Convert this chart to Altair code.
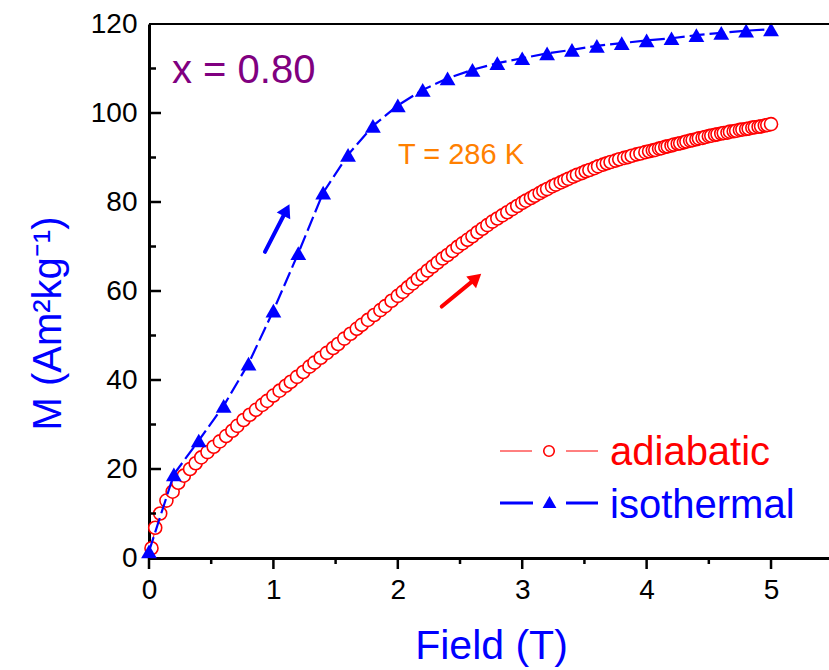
import altair as alt
import pandas as pd

# ---- measured magnetization curves (x = 0.80, T = 286 K) ----
# isothermal: field steps of 0.2 T
iso_field = [0.0, 0.2, 0.4, 0.6, 0.8, 1.0, 1.2, 1.4, 1.6, 1.8, 2.0, 2.2, 2.4,
             2.6, 2.8, 3.0, 3.2, 3.4, 3.6, 3.8, 4.0, 4.2, 4.4, 4.6, 4.8, 5.0]
iso_m = [1.5, 18.8, 26.4, 34.2, 43.7, 55.6, 68.5, 82.1, 90.6, 97.1, 101.7, 105.2, 107.8,
         109.7, 111.2, 112.3, 113.4, 114.2, 115.1, 115.7, 116.3, 116.8, 117.5, 118.0, 118.5, 118.8]

# adiabatic: continuous field sweep
adia_field = [0.02, 0.05, 0.09, 0.14, 0.19, 0.235, 0.28, 0.33, 0.375, 0.42, 0.47, 0.52,
              0.57, 0.62, 0.67, 0.71, 0.76, 0.81, 0.86, 0.91, 0.95, 1.00, 1.05, 1.10,
              1.14, 1.19, 1.24, 1.29, 1.33, 1.38, 1.43, 1.48, 1.52, 1.57, 1.62, 1.67,
              1.71, 1.76, 1.81, 1.86, 1.90, 1.95, 2.00,
              2.04, 2.08, 2.12, 2.16, 2.20, 2.24, 2.28, 2.32, 2.36, 2.40, 2.44, 2.48,
              2.52, 2.56, 2.60, 2.64, 2.68, 2.72, 2.76, 2.80, 2.84, 2.88, 2.92, 2.96, 3.00,
              3.03, 3.07, 3.10, 3.14, 3.17, 3.20, 3.24, 3.27, 3.31, 3.34, 3.37, 3.41,
              3.44, 3.48, 3.51, 3.54, 3.58, 3.61, 3.65, 3.68, 3.71, 3.75, 3.78, 3.82,
              3.85, 3.88, 3.92, 3.95, 3.99,
              4.02, 4.05, 4.07, 4.10, 4.12, 4.15, 4.17, 4.20, 4.22, 4.25, 4.27, 4.30,
              4.32, 4.35, 4.37, 4.40, 4.42, 4.45, 4.47, 4.50, 4.52, 4.55, 4.57, 4.60,
              4.62, 4.65, 4.67, 4.70, 4.72, 4.75, 4.77, 4.80, 4.82, 4.85, 4.87, 4.90,
              4.92, 4.95, 4.97, 5.00]
adia_m = [2.2, 6.8, 10.0, 12.9, 14.9, 16.9, 18.5, 20.0, 21.3, 22.6, 23.8, 25.0,
          26.2, 27.4, 28.6, 29.7, 31.0, 32.2, 33.3, 34.4, 35.3, 36.5, 37.6, 38.7,
          39.6, 40.7, 41.8, 43.0, 43.9, 45.0, 46.1, 47.2, 48.1, 49.3, 50.4, 51.5,
          52.4, 53.5, 54.6, 55.7, 56.6, 57.8, 58.9,
          59.8, 60.8, 61.7, 62.7, 63.6, 64.6, 65.5, 66.4, 67.3, 68.1, 69.0, 69.9,
          70.7, 71.5, 72.3, 73.2, 74.0, 74.8, 75.6, 76.3, 77.0, 77.7, 78.4, 79.1, 79.8,
          80.3, 80.9, 81.4, 82.0, 82.5, 82.9, 83.5, 83.9, 84.4, 84.8, 85.2, 85.7,
          86.1, 86.5, 86.9, 87.2, 87.6, 88.0, 88.4, 88.7, 89.0, 89.3, 89.6, 89.9,
          90.1, 90.4, 90.7, 90.9, 91.2,
          91.4, 91.6, 91.7, 92.0, 92.1, 92.4, 92.5, 92.7, 92.9, 93.1, 93.2, 93.4,
          93.6, 93.8, 93.9, 94.1, 94.3, 94.4, 94.6, 94.8, 94.9, 95.1, 95.2, 95.4,
          95.5, 95.6, 95.8, 95.9, 96.0, 96.2, 96.3, 96.4, 96.5, 96.7, 96.8, 96.9,
          97.0, 97.2, 97.3, 97.5]

# sweep-direction arrows: tail and head-centre in data units, head rotation
arrow_color = ["#0000FF", "#FF0000"]
arrow_x0 = [0.932, 2.353]
arrow_y0 = [68.8, 56.5]
arrow_x1 = [1.105, 2.630]
arrow_y1 = [78.2, 62.9]
arrow_angle = [27, 50]

# axis ticks
x_major = [0, 1, 2, 3, 4, 5]
x_minor = [0.5, 1.5, 2.5, 3.5, 4.5]
y_major = [0, 20, 40, 60, 80, 100, 120]
y_inner_major = [20, 40, 60, 80, 100]
y_inner_minor = [10, 30, 50, 70, 90, 110]

W, H = 680, 534
FONT = "Liberation Sans"
BLUE, RED = "#0000FF", "#FF0000"

xs = alt.Scale(domain=[0, 5.466], nice=False, zero=False)
ys = alt.Scale(domain=[0, 120], nice=False, zero=False)

iso = pd.DataFrame({"field": iso_field, "m": iso_m})
adia = pd.DataFrame({"field": adia_field, "m": adia_m})
arrows = pd.DataFrame({"x0": arrow_x0, "y0": arrow_y0, "x1": arrow_x1,
                       "y1": arrow_y1, "c": arrow_color, "a": arrow_angle})

x_axis = alt.Axis(
    title="Field (T)", values=x_major, format="d", grid=False,
    ticks=False, tickSize=0, labelPadding=18, labelFlush=False, labelOverlap=False,
    labelFont=FONT, labelFontSize=28, labelColor="black",
    domainColor="black", domainWidth=3,
    titleFont=FONT, titleFontSize=41, titleFontWeight="normal", titleColor=BLUE,
    titleX=342, titleY=100, titleAlign="center", titleBaseline="alphabetic",
)
y_axis = alt.Axis(
    title="M (Am²kg⁻¹)", values=y_major, format="d", grid=False,
    ticks=False, tickSize=0, labelPadding=12, labelOverlap=False,
    labelFont=FONT, labelFontSize=28, labelColor="black",
    domainColor="black", domainWidth=3,
    titleFont=FONT, titleFontSize=40, titleFontWeight="normal", titleColor=BLUE,
    titleAngle=270, titleX=-89, titleY=299, titleAlign="center",
    titleBaseline="alphabetic",
)

# adiabatic curve: thin line under open circles
adia_line = alt.Chart(adia).mark_line(color=RED, strokeWidth=1).encode(
    x=alt.X("field:Q", scale=xs, axis=x_axis),
    y=alt.Y("m:Q", scale=ys, axis=y_axis),
)
adia_pts = alt.Chart(adia).mark_point(
    shape="circle", filled=True, fill="white", stroke=RED, strokeWidth=1.6,
    size=170, opacity=1,
).encode(x=alt.X("field:Q", scale=xs), y=alt.Y("m:Q", scale=ys))

# isothermal curve: dashed line with filled triangles
iso_line = alt.Chart(iso).mark_line(color=BLUE, strokeWidth=2.2, strokeDash=[15, 5]).encode(
    x=alt.X("field:Q", scale=xs), y=alt.Y("m:Q", scale=ys),
)
iso_pts = alt.Chart(iso).mark_point(
    shape="triangle-up", filled=True, color=BLUE, size=250, opacity=1, strokeWidth=0,
).encode(x=alt.X("field:Q", scale=xs), y=alt.Y("m:Q", scale=ys))

# arrows
arrow_shaft = alt.Chart(arrows).mark_rule(strokeWidth=4, strokeCap="round").encode(
    x=alt.X("x0:Q", scale=xs), y=alt.Y("y0:Q", scale=ys),
    x2="x1:Q", y2="y1:Q", color=alt.Color("c:N", scale=None),
)
arrow_heads = [
    alt.Chart(arrows.iloc[[i]]).mark_point(
        shape="triangle-up", filled=True, size=230, opacity=1, strokeWidth=0,
        angle=float(arrow_angle[i]),
    ).encode(x=alt.X("x1:Q", scale=xs), y=alt.Y("y1:Q", scale=ys),
             color=alt.Color("c:N", scale=None))
    for i in range(len(arrow_angle))
]

# frame line along the top of the plot
top_line = alt.Chart(pd.DataFrame({"v": [120]})).mark_rule(color="black", strokeWidth=2).encode(
    y=alt.Y("v:Q", scale=ys), x=alt.value(0), x2=alt.value(W),
)

# y ticks point into the plot, x ticks point outward
yt_major = alt.Chart(pd.DataFrame({"v": y_inner_major})).mark_rule(color="black", strokeWidth=2.5).encode(
    y=alt.Y("v:Q", scale=ys), x=alt.value(0), x2=alt.value(12),
)
yt_minor = alt.Chart(pd.DataFrame({"v": y_inner_minor})).mark_rule(color="black", strokeWidth=2.5).encode(
    y=alt.Y("v:Q", scale=ys), x=alt.value(0), x2=alt.value(7),
)
xt_major = alt.Chart(pd.DataFrame({"v": x_major})).mark_rule(color="black", strokeWidth=2.5).encode(
    x=alt.X("v:Q", scale=xs), y=alt.value(H), y2=alt.value(H + 11),
)
xt_minor = alt.Chart(pd.DataFrame({"v": x_minor})).mark_rule(color="black", strokeWidth=2.5).encode(
    x=alt.X("v:Q", scale=xs), y=alt.value(H), y2=alt.value(H + 6),
)

# text annotations
one = pd.DataFrame({"k": [0]})
label_x = alt.Chart(one).mark_text(
    text="x = 0.80", font=FONT, fontSize=40, color="#800080", align="left", baseline="alphabetic",
).encode(x=alt.value(23), y=alt.value(59))
label_t = alt.Chart(one).mark_text(
    text="T = 286 K", font=FONT, fontSize=29, color="#FF8000", align="left", baseline="alphabetic",
).encode(x=alt.value(249), y=alt.value(140))

# legend
def seg(x1, x2, y, color, w):
    return alt.Chart(one).mark_rule(color=color, strokeWidth=w).encode(
        x=alt.value(x1), x2=alt.value(x2), y=alt.value(y))

leg = [
    seg(351, 383, 427, RED, 1), seg(417, 449, 427, RED, 1),
    alt.Chart(one).mark_point(shape="circle", filled=True, fill="white", stroke=RED,
                              strokeWidth=1.6, size=110, opacity=1).encode(
        x=alt.value(400), y=alt.value(427)),
    alt.Chart(one).mark_text(text="adiabatic", font=FONT, fontSize=40, color=RED,
                             align="left", baseline="alphabetic").encode(
        x=alt.value(461), y=alt.value(441)),
    seg(351, 384, 479, BLUE, 3), seg(417, 449, 479, BLUE, 3),
    alt.Chart(one).mark_point(shape="triangle-up", filled=True, color=BLUE, size=190,
                              opacity=1, strokeWidth=0).encode(
        x=alt.value(400.5), y=alt.value(478)),
    alt.Chart(one).mark_text(text="isothermal", font=FONT, fontSize=40, color=BLUE,
                             align="left", baseline="alphabetic").encode(
        x=alt.value(461), y=alt.value(494)),
]

chart = alt.layer(
    adia_line, adia_pts, iso_line, iso_pts, arrow_shaft, *arrow_heads,
    top_line, yt_major, yt_minor, xt_major, xt_minor, label_x, label_t, *leg,
).properties(
    width=W, height=H,
    autosize=alt.AutoSizeParams(type="none"),
    padding={"left": 149, "top": 24, "right": 0, "bottom": 112},
    background="white",
).configure_view(stroke=None)

chart.save("out.html", embed_options={"renderer": "svg", "actions": False})
